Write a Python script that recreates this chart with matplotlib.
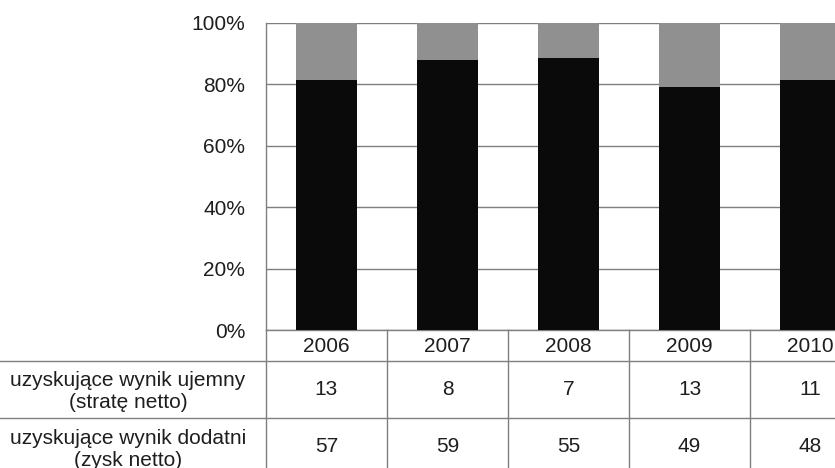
import matplotlib
matplotlib.use("Agg")
import matplotlib.pyplot as plt
from matplotlib import transforms
import numpy as np

# Data: number of companies by year
years = ["2006", "2007", "2008", "2009", "2010"]
loss_counts = [13, 8, 7, 13, 11]      # wynik ujemny (strata netto)
profit_counts = [57, 59, 55, 49, 48]  # wynik dodatni (zysk netto)
row_labels = ["uzyskujące wynik ujemny\n(stratę netto)",
              "uzyskujące wynik dodatni\n(zysk netto)"]
ytick_vals = [0, 20, 40, 60, 80, 100]

plt.rcParams["font.family"] = ["Liberation Sans", "DejaVu Sans"]
FS = 15
TXT = "#1e1e1e"
LINE = "#7f7f7f"

W, H = 835, 468
fig = plt.figure(figsize=(W / 100, H / 100), dpi=100)

# axes geometry in pixels
ax_left, ax_top, ax_bottom, col_w = 266, 23, 330, 121
n = len(years)
ax = fig.add_axes([ax_left / W, 1 - ax_bottom / H,
                   n * col_w / W, (ax_bottom - ax_top) / H])

loss = np.array(loss_counts, dtype=float)
profit = np.array(profit_counts, dtype=float)
total = loss + profit
profit_pct = profit / total * 100
loss_pct = loss / total * 100

x = np.arange(n)
bw = 0.51
ax.bar(x, profit_pct, width=bw, color="#0a0a0a", zorder=3)
ax.bar(x, loss_pct, bottom=profit_pct, width=bw, color="#909090", zorder=3)

ax.set_xlim(-0.5, n - 0.5)
ax.set_ylim(0, 100)
ax.set_yticks(ytick_vals)
ax.set_yticklabels([f"{v}%" for v in ytick_vals], fontsize=FS, color=TXT)
ax.tick_params(axis="y", length=0, pad=15)
ax.set_xticks([])
ax.grid(axis="y", color=LINE, linewidth=1.0, zorder=1)
for side in ["top", "right"]:
    ax.spines[side].set_visible(False)
for side in ["left", "bottom"]:
    ax.spines[side].set_color(LINE)
    ax.spines[side].set_linewidth(1.0)

# data table under the plot: x in data units, y in figure pixels
def fy(py):
    return 1 - py / H

tr = transforms.blended_transform_factory(ax.transData, fig.transFigure)
row_bounds = [330, 361, 418, 475]

# vertical cell borders
for b in np.arange(n) - 0.5:
    ax.add_line(plt.Line2D([b, b], [fy(row_bounds[0]), fy(H + 2)],
                           transform=tr, color=LINE, lw=1.0, clip_on=False))
# horizontal borders spanning label column
for yb in row_bounds[1:3]:
    fig.add_artist(plt.Line2D([0, 1], [fy(yb), fy(yb)],
                              transform=fig.transFigure, color=LINE, lw=1.0))

# header row (years)
hc = (row_bounds[0] + row_bounds[1]) / 2
for xi, yr in zip(x, years):
    ax.text(xi, fy(hc + 0.5), yr, transform=tr, ha="center", va="center",
            fontsize=FS, color=TXT, clip_on=False)

# value rows
for r, vals in enumerate([loss_counts, profit_counts]):
    cy = (row_bounds[r + 1] + row_bounds[r + 2]) / 2
    for xi, v in zip(x, vals):
        ax.text(xi, fy(cy), str(v), transform=tr, ha="center", va="center",
                fontsize=FS, color=TXT, clip_on=False)
    fig.text(128 / W, fy(cy + 2.5), row_labels[r], ha="center", va="center",
             multialignment="center", fontsize=FS, color=TXT, linespacing=1.2)

fig.savefig("out.png", dpi=100)
